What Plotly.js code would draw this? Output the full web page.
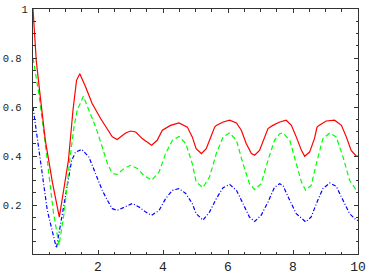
<!DOCTYPE html>
<html>
<head>
<meta charset="utf-8">
<script src="https://cdn.plot.ly/plotly-3.0.1.min.js"></script>
<style>html,body{margin:0;padding:0;background:#fff;}#plot{width:368px;height:277px;}</style>
</head>
<body>
<div id="plot"></div>
<script>
// Red (solid) series
const redX = [0, 0.05, 0.1, 0.2, 0.38, 0.6, 0.81, 1.09, 1.23, 1.34, 1.44, 1.62, 1.82, 2.08, 2.29, 2.44, 2.59, 2.85, 3.0, 3.16, 3.36, 3.65, 3.82, 3.98, 4.23, 4.49, 4.75, 4.9, 5.02, 5.18, 5.33, 5.49, 5.59, 5.64, 5.85, 6.05, 6.26, 6.41, 6.56, 6.72, 6.82, 6.97, 7.13, 7.23, 7.38, 7.59, 7.79, 7.95, 8.1, 8.26, 8.36, 8.51, 8.66, 8.74, 8.8, 9.02, 9.28, 9.49, 9.64, 9.79, 9.95, 10];
const redY = [1, 0.88, 0.79, 0.67, 0.464, 0.29, 0.151, 0.382, 0.587, 0.709, 0.736, 0.682, 0.614, 0.553, 0.512, 0.478, 0.467, 0.494, 0.502, 0.498, 0.471, 0.444, 0.464, 0.505, 0.525, 0.535, 0.518, 0.478, 0.43, 0.41, 0.43, 0.484, 0.518, 0.525, 0.539, 0.546, 0.535, 0.505, 0.451, 0.41, 0.403, 0.423, 0.478, 0.512, 0.525, 0.539, 0.546, 0.525, 0.478, 0.423, 0.399, 0.416, 0.471, 0.518, 0.525, 0.543, 0.546, 0.525, 0.478, 0.423, 0.399, 0.40];

// Green (dashed) series
const greenX = [0, 0.18, 0.44, 0.62, 0.8, 0.97, 1.13, 1.26, 1.36, 1.55, 1.72, 1.93, 2.13, 2.29, 2.44, 2.59, 2.8, 3.0, 3.21, 3.41, 3.65, 3.88, 4.08, 4.29, 4.49, 4.7, 4.9, 5.02, 5.23, 5.43, 5.64, 5.85, 6.05, 6.26, 6.46, 6.66, 6.82, 7.02, 7.23, 7.43, 7.59, 7.69, 7.9, 8.1, 8.26, 8.39, 8.56, 8.72, 8.92, 9.13, 9.33, 9.54, 9.74, 9.95, 10];
const greenY = [0.8, 0.655, 0.382, 0.178, 0.036, 0.178, 0.382, 0.518, 0.587, 0.644, 0.587, 0.518, 0.437, 0.369, 0.328, 0.325, 0.349, 0.362, 0.349, 0.321, 0.301, 0.335, 0.41, 0.464, 0.48, 0.451, 0.369, 0.294, 0.271, 0.314, 0.41, 0.478, 0.494, 0.464, 0.369, 0.287, 0.263, 0.287, 0.382, 0.464, 0.491, 0.494, 0.464, 0.369, 0.294, 0.26, 0.28, 0.369, 0.471, 0.494, 0.478, 0.396, 0.301, 0.26, 0.262];

// Blue (dash-dot) series
const blueX = [0, 0.235, 0.44, 0.72, 0.92, 1.09, 1.19, 1.31, 1.5, 1.72, 1.93, 2.13, 2.29, 2.44, 2.59, 2.8, 3.06, 3.26, 3.47, 3.65, 3.88, 4.08, 4.29, 4.49, 4.7, 4.9, 5.02, 5.23, 5.43, 5.64, 5.85, 6.05, 6.26, 6.46, 6.66, 6.82, 7.02, 7.23, 7.43, 7.59, 7.69, 7.9, 8.1, 8.39, 8.56, 8.72, 8.92, 9.13, 9.33, 9.54, 9.74, 9.95, 10];
const blueY = [0.6, 0.382, 0.178, 0.024, 0.178, 0.314, 0.382, 0.416, 0.427, 0.396, 0.328, 0.26, 0.219, 0.185, 0.178, 0.192, 0.206, 0.192, 0.171, 0.158, 0.178, 0.226, 0.26, 0.267, 0.247, 0.206, 0.165, 0.138, 0.171, 0.226, 0.271, 0.284, 0.26, 0.206, 0.151, 0.133, 0.158, 0.212, 0.272, 0.287, 0.28, 0.219, 0.165, 0.131, 0.151, 0.206, 0.267, 0.29, 0.276, 0.219, 0.165, 0.138, 0.137];

// Tick labels
const xTickVals = [2, 4, 6, 8, 10];
const xTickText = ["2", "4", "6", "8", "10"];
const yTickVals = [0.2, 0.4, 0.6, 0.8, 1];
const yTickText = ["0.2\u00a0", "0.4\u00a0", "0.6\u00a0", "0.8\u00a0", "1"];

const frameColor = '#333';
const monoFamily = 'Liberation Mono, Courier New, monospace';

const traces = [
  {x: blueX, y: blueY, mode: 'lines', line: {color: '#0000ff', width: 1.2, dash: '4px,2px,1px,2px'}, hoverinfo: 'skip'},
  {x: greenX, y: greenY, mode: 'lines', line: {color: '#00ff00', width: 1.2, dash: '5px,3px'}, hoverinfo: 'skip'},
  {x: redX, y: redY, mode: 'lines', line: {color: '#ff0000', width: 1.2}, hoverinfo: 'skip'}
];

const layout = {
  width: 368, height: 277,
  margin: {l: 33, r: 10, t: 9, b: 23},
  paper_bgcolor: '#fff', plot_bgcolor: '#fff',
  showlegend: false,
  xaxis: {
    range: [0, 10], showgrid: false, zeroline: false,
    showline: true, linecolor: frameColor, linewidth: 1, mirror: 'allticks',
    ticks: 'inside', ticklen: 4, tickcolor: frameColor, tickwidth: 1,
    tickvals: xTickVals, ticktext: xTickText,
    tickfont: {family: monoFamily, size: 13, color: '#222'},
    minor: {dtick: 0.5, tick0: 0, ticks: 'inside', ticklen: 2.5, tickcolor: frameColor, showgrid: false}
  },
  yaxis: {
    range: [0, 1], showgrid: false, zeroline: false,
    showline: true, linecolor: frameColor, linewidth: 1, mirror: 'allticks',
    ticks: 'inside', ticklen: 4, tickcolor: frameColor, tickwidth: 1,
    tickvals: yTickVals, ticktext: yTickText,
    tickfont: {family: monoFamily, size: 10.5, color: '#222'},
    ticklabelstandoff: 2,
    minor: {dtick: 0.05, tick0: 0, ticks: 'inside', ticklen: 2.5, tickcolor: frameColor, showgrid: false}
  }
};

Plotly.newPlot('plot', traces, layout, {staticPlot: true, displayModeBar: false});
</script>
</body>
</html>
